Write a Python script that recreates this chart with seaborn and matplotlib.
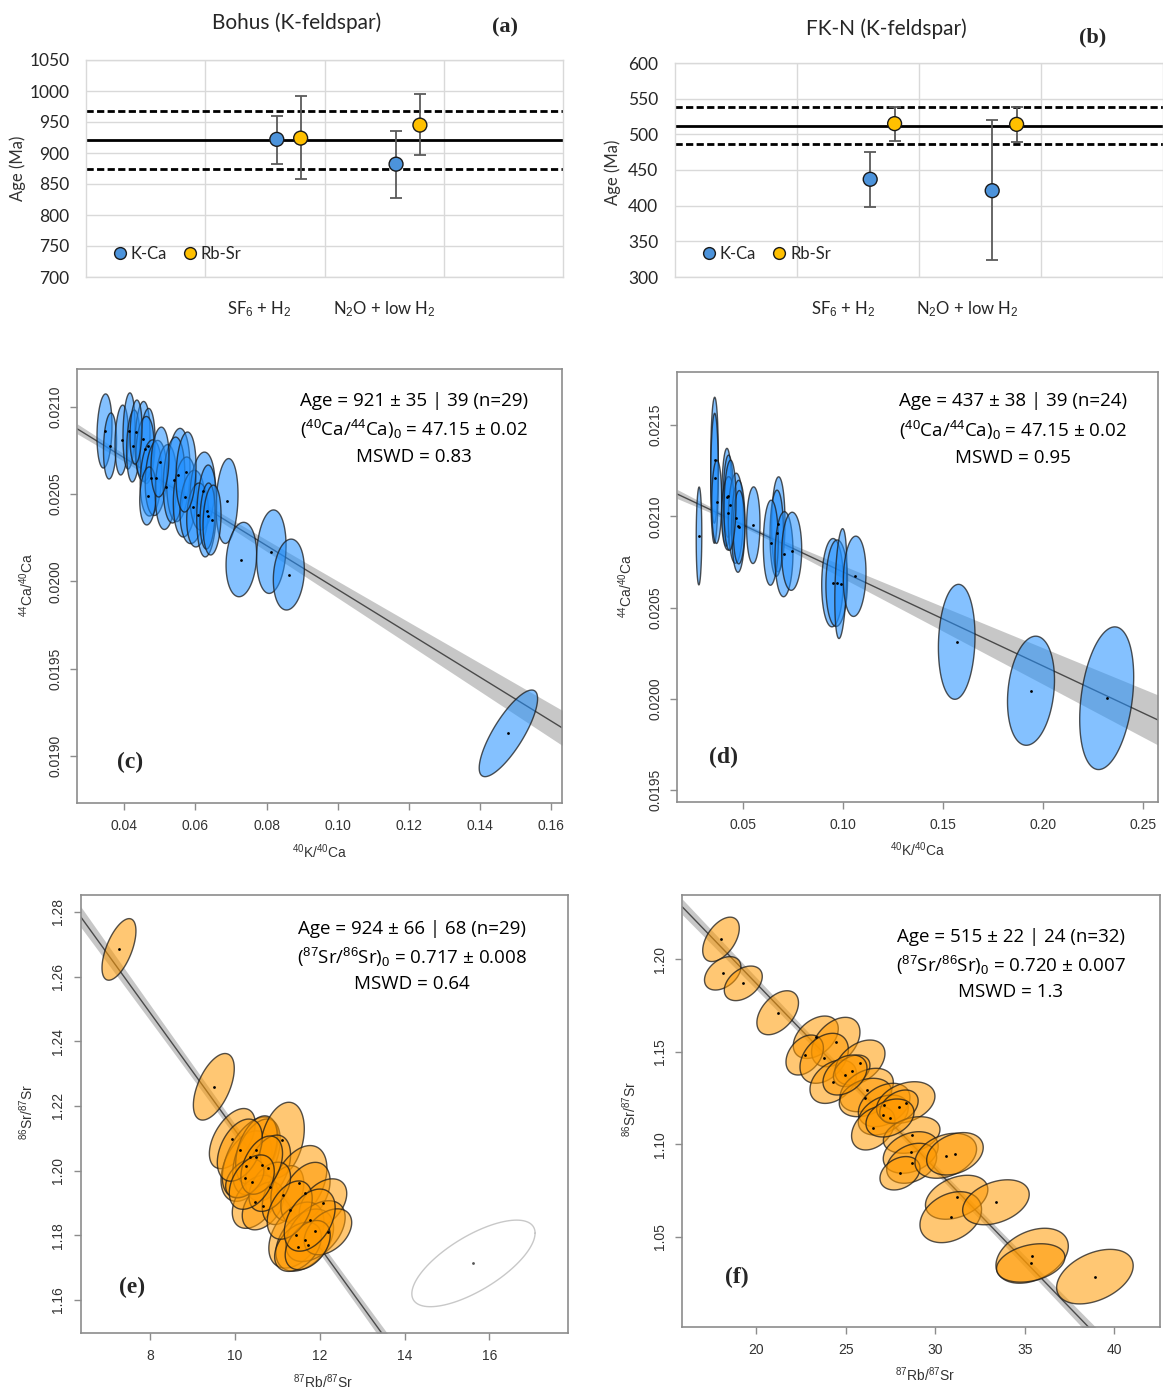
import numpy as np
import pandas as pd
import matplotlib
matplotlib.use("Agg")
import matplotlib.pyplot as plt
from matplotlib.lines import Line2D
import seaborn as sns

# ------------------------------------------------------------------ data
methods = [r"SF$_6$ + H$_2$", r"N$_2$O + low H$_2$"]

# (a) Bohus
a_kca_age = [922, 882]
a_kca_lo = [883, 827]
a_kca_hi = [960, 936]
a_rbsr_age = [924, 945]
a_rbsr_lo = [858, 896]
a_rbsr_hi = [992, 995]
a_ref = [921, 875, 967]          # mean, lower, upper
a_yticks = [700, 750, 800, 850, 900, 950, 1000, 1050]

# (b) FK-N
b_kca_age = [437, 421]
b_kca_lo = [398, 324]
b_kca_hi = [475, 520]
b_rbsr_age = [515, 514]
b_rbsr_lo = [491, 489]
b_rbsr_hi = [539, 539]
b_ref = [512, 486, 538]
b_yticks = [300, 350, 400, 450, 500, 550, 600]

# (c) Bohus K-Ca isochron
c_x = [0.03443, 0.03598, 0.03927, 0.04132, 0.04253, 0.04512, 0.04653, 0.04582, 0.04751, 0.04892,
       0.04667, 0.05173, 0.05519, 0.05398, 0.05707, 0.05918, 0.06200, 0.06059, 0.06318, 0.06340,
       0.06889, 0.07291, 0.08135, 0.08627, 0.14802, 0.05004, 0.05736, 0.06467, 0.04329]
c_y = [0.020861, 0.020775, 0.020809, 0.020861, 0.020775, 0.020815, 0.020775, 0.020758, 0.020592, 0.020592,
       0.020489, 0.020540, 0.020609, 0.020580, 0.020483, 0.020426, 0.020517, 0.020380, 0.020403, 0.020374,
       0.020460, 0.020125, 0.020170, 0.020039, 0.019130, 0.020683, 0.020626, 0.020351, 0.020855]
c_sx = [0.00211, 0.00183, 0.00188, 0.00169, 0.00188, 0.00211, 0.00211, 0.00253, 0.00304, 0.00304,
        0.00233, 0.00304, 0.00329, 0.00304, 0.00329, 0.00352, 0.00352, 0.00304, 0.00281, 0.00211,
        0.00309, 0.00430, 0.00414, 0.00436, 0.00821, 0.00253, 0.00281, 0.00253, 0.00169]
c_sy = [0.000212, 0.000189, 0.000200, 0.000218, 0.000206, 0.000215, 0.000215, 0.000186, 0.000218, 0.000215,
        0.000166, 0.000243, 0.000267, 0.000246, 0.000229, 0.000210, 0.000223, 0.000183, 0.000263, 0.000189,
        0.000243, 0.000213, 0.000239, 0.000203, 0.000248, 0.000200, 0.000229, 0.000200, 0.000183]
c_rho = [0.15] * 24 + [0.8] + [0.15] * 4
c_intercept, c_slope = 0.021209, -0.01255
c_text = ["Age = 921 ± 35 | 39 (n=29)", r"($^{40}$Ca/$^{44}$Ca)$_0$ = 47.15 ± 0.02", "MSWD = 0.83"]

# (d) FK-N K-Ca isochron
d_x = [0.02785, 0.0356, 0.0356, 0.0367, 0.0417, 0.0425, 0.0425, 0.04625, 0.0475, 0.04785,
       0.055, 0.0675, 0.0667, 0.06375, 0.07035, 0.0742, 0.0946, 0.0967, 0.09875, 0.1057,
       0.1567, 0.19385, 0.2317, 0.04335]
d_y = [0.020892, 0.021307, 0.021208, 0.021079, 0.021104, 0.021110, 0.021016, 0.020989, 0.020945, 0.020940,
       0.020951, 0.020956, 0.020907, 0.020855, 0.020792, 0.020808, 0.020636, 0.020633, 0.020631, 0.020671,
       0.020312, 0.020044, 0.020003, 0.021060]
d_sx = [0.0014, 0.0019, 0.0019, 0.0025, 0.0025, 0.0025, 0.00335, 0.00375, 0.00335, 0.0029,
        0.00335, 0.00335, 0.00335, 0.00375, 0.0045, 0.005, 0.0054, 0.0054, 0.003, 0.00565,
        0.00915, 0.01175, 0.0135, 0.003]
d_sy = [0.000268, 0.000345, 0.000356, 0.000228, 0.000268, 0.000225, 0.000201, 0.000247, 0.000252, 0.000201,
        0.000210, 0.000260, 0.000236, 0.000233, 0.000233, 0.000214, 0.000242, 0.000237, 0.000301, 0.000220,
        0.000315, 0.000299, 0.000391, 0.000247]
d_rho = [0.05] * 18 + [0.3, 0.1, 0.1, 0.2, 0.3, 0.1]
d_intercept, d_slope = 0.021209, -0.00515
d_text = ["Age = 437 ± 38 | 39 (n=24)", r"($^{40}$Ca/$^{44}$Ca)$_0$ = 47.15 ± 0.02", "MSWD = 0.95"]

# (e) Bohus Rb-Sr isochron
e_x = [7.271, 9.506, 9.941, 10.275, 10.365, 10.511, 10.511, 11.118, 10.784, 10.471,
       10.666, 11.136, 11.511, 11.666, 12.078, 11.452, 11.647, 11.901, 11.489, 12.195,
       11.718, 10.824, 10.235, 10.118, 10.635, 11.294, 11.765, 10.4]
e_y = [1.26838, 1.22591, 1.2099, 1.2014, 1.20418, 1.20427, 1.20634, 1.20943, 1.20078, 1.19036,
       1.18909, 1.19243, 1.19605, 1.19296, 1.18987, 1.18007, 1.17852, 1.1813, 1.17645, 1.18109,
       1.17698, 1.195, 1.19759, 1.20634, 1.2017, 1.1878, 1.1847, 1.19645]
e_sx = [0.400, 0.482, 0.540, 0.600, 0.660, 0.560, 0.490, 0.520, 0.530, 0.530,
        0.490, 0.490, 0.660, 0.580, 0.560, 0.650, 0.680, 0.700, 0.550, 0.560,
        0.530, 0.490, 0.450, 0.530, 0.490, 0.530, 0.600, 0.530]
e_sy = [0.00952, 0.01029, 0.00930, 0.01090, 0.01240, 0.01170, 0.01060, 0.01170, 0.01020, 0.00820,
        0.00740, 0.00910, 0.01170, 0.00960, 0.00760, 0.01020, 0.00960, 0.00940, 0.00760, 0.00710,
        0.00760, 0.00760, 0.00600, 0.00960, 0.00900, 0.00900, 0.00960, 0.00840]
e_rho = [0.6, 0.55, 0.5, 0.4, 0.5, 0.45, 0.4, 0.3, 0.4, 0.4,
         0.4, 0.4, 0.4, 0.4, 0.4, 0.4, 0.4, 0.45, 0.4, 0.4,
         0.4, 0.4, 0.4, 0.4, 0.4, 0.4, 0.4, 0.4]
e_out_x, e_out_y, e_out_sx, e_out_sy, e_out_rho = [15.624], [1.17132], [1.452], [0.01338], [0.7]
e_intercept, e_slope = 1.3940, -0.01814
e_text = ["Age = 924 ± 66 | 68 (n=29)", r"($^{87}$Sr/$^{86}$Sr)$_0$ = 0.717 ± 0.008", "MSWD = 0.64"]

# (f) FK-N Rb-Sr isochron
f_x = [18.047, 18.142, 19.291, 21.211, 23.337, 24.453, 22.718, 23.806, 24.314, 25.804,
       25.34, 26.177, 26.11, 27.154, 27.104, 26.546, 28.359, 27.98, 28.689, 28.638,
       28.689, 28.036, 30.592, 31.105, 31.2, 30.871, 33.393, 35.413, 35.335, 38.917,
       24.967, 27.478]
f_y = [1.21064, 1.19228, 1.18688, 1.171, 1.15777, 1.15518, 1.14816, 1.14638, 1.13374, 1.14411,
       1.13963, 1.12926, 1.12521, 1.12116, 1.11576, 1.10858, 1.12251, 1.12024, 1.10496, 1.09551,
       1.08968, 1.08428, 1.09373, 1.09481, 1.07132, 1.06057, 1.06862, 1.03973, 1.03584, 1.02844,
       1.13736, 1.11414]
f_sx = [1.021, 1.016, 1.06, 1.161, 1.256, 1.35, 1.044, 1.35, 1.3, 1.395,
        1.021, 1.49, 1.462, 1.44, 1.395, 1.211, 1.629, 1.071, 1.579, 1.535,
        1.395, 1.116, 1.719, 1.579, 1.741, 1.719, 1.858, 2.02, 1.908, 2.137,
        1.228, 1.339]
f_sy = [0.01199, 0.00902, 0.00934, 0.01188, 0.01145, 0.01334, 0.0108, 0.0135, 0.01172, 0.01215,
        0.00853, 0.01172, 0.01037, 0.01172, 0.0108, 0.01172, 0.01123, 0.00902, 0.00988, 0.01123,
        0.0108, 0.00902, 0.01215, 0.01145, 0.01188, 0.01377, 0.01215, 0.01485, 0.01037, 0.01474,
        0.0108, 0.01026]
f_rho = [0.5, 0.4, 0.4, 0.45, 0.4, 0.4, 0.35, 0.35, 0.35, 0.4,
         0.35, 0.35, 0.3, 0.35, 0.35, 0.35, 0.3, 0.35, 0.3, 0.3,
         0.3, 0.3, 0.3, 0.3, 0.35, 0.3, 0.35, 0.35, 0.3, 0.4,
         0.35, 0.3]
f_intercept, f_slope = 1.3872, -0.01001
f_text = ["Age = 515 ± 22 | 24 (n=32)", r"($^{87}$Sr/$^{86}$Sr)$_0$ = 0.720 ± 0.007", "MSWD = 1.3"]

# ------------------------------------------------------------------ style
W, H = 1163, 1391
sns.set_theme(style="white")
plt.rcParams["font.family"] = ["Liberation Sans", "DejaVu Sans"]
plt.rcParams["mathtext.fontset"] = "custom"
plt.rcParams["mathtext.rm"] = "Liberation Sans"
plt.rcParams["mathtext.it"] = "Liberation Sans:italic"
plt.rcParams["mathtext.bf"] = "Liberation Sans:bold"

KCA = "#4C93DB"
RBSR = "#FFC000"
BLUE_FILL = (0.12, 0.56, 1.0, 0.55)
ORANGE_FILL = (1.0, 0.60, 0.0, 0.55)
EDGE = (0.1, 0.1, 0.1, 0.75)
XL = ["Lato", "DejaVu Sans"]
ANN = ["Open Sans", "DejaVu Sans"]
SERIF = ["Liberation Serif", "DejaVu Serif"]

fig = plt.figure(figsize=(W / 100, H / 100), dpi=100)
fig.patch.set_facecolor("white")


def ax_px(l, t, r, b):
    return fig.add_axes([l / W, 1 - b / H, (r - l) / W, (b - t) / H])


def ftext(x, y, s, **kw):
    fig.text(x / W, 1 - y / H, s, **kw)


# ------------------------------------------------------------------ top panels
def top_panel(ax, kca, kca_lo, kca_hi, rb, rb_lo, rb_hi, ref, yticks, cat_pos):
    kca_pos = [1.6, 2.6]
    rb_pos = [1.8, 2.8]
    ax.set_xlim(0, 4)
    ax.set_ylim(yticks[0], yticks[-1])
    ax.set_yticks(yticks)
    ax.set_xticks(cat_pos)
    ax.set_xticklabels(methods, fontfamily=XL, fontsize=12, color="#262626")
    ax.set_xticks([1, 2, 3], minor=True)
    ax.grid(False)
    ax.grid(True, which="major", axis="y", color="#d9d9d9", lw=1)
    ax.grid(True, which="minor", axis="x", color="#d9d9d9", lw=1)
    ax.set_axisbelow(True)
    for s in ax.spines.values():
        s.set_color("#d9d9d9")
        s.set_linewidth(1)
    ax.tick_params(axis="both", which="both", length=0)
    ax.tick_params(axis="x", pad=16)
    ax.tick_params(axis="y", pad=12, labelsize=12.5, labelcolor="#262626")
    for lab in ax.get_yticklabels():
        lab.set_fontfamily(XL)
    ax.axhline(ref[0], color="black", lw=2, zorder=2)
    ax.axhline(ref[1], color="black", lw=2, ls=(0, (2.6, 1.2)), zorder=2)
    ax.axhline(ref[2], color="black", lw=2, ls=(0, (2.6, 1.2)), zorder=2)
    ax.errorbar(kca_pos, kca, yerr=[np.subtract(kca, kca_lo), np.subtract(kca_hi, kca)],
                fmt="none", ecolor="#5a5a5a", elinewidth=1.3, capsize=4, capthick=1.3, zorder=3)
    ax.errorbar(rb_pos, rb, yerr=[np.subtract(rb, rb_lo), np.subtract(rb_hi, rb)],
                fmt="none", ecolor="#5a5a5a", elinewidth=1.3, capsize=4, capthick=1.3, zorder=3)
    df = pd.DataFrame({"pos": kca_pos + rb_pos, "age": list(kca) + list(rb),
                       "system": ["K-Ca"] * 2 + ["Rb-Sr"] * 2})
    sns.scatterplot(data=df, x="pos", y="age", hue="system", palette={"K-Ca": KCA, "Rb-Sr": RBSR},
                    s=100, edgecolor="#1a1a1a", linewidth=1, legend=False, ax=ax, zorder=4)
    ax.set_xlabel("")
    ax.set_ylabel("")
    handles = [Line2D([], [], ls="", marker="o", ms=8.5, mfc=KCA, mec="#1a1a1a", mew=1),
               Line2D([], [], ls="", marker="o", ms=8.5, mfc=RBSR, mec="#1a1a1a", mew=1)]
    leg = ax.legend(handles, ["K-Ca", "Rb-Sr"], loc="lower left", bbox_to_anchor=(0.025, 0.0),
                    ncol=2, frameon=False, handlelength=0.8, handletextpad=0.25, columnspacing=1.0,
                    prop={"family": XL, "size": 12})
    for t in leg.get_texts():
        t.set_color("#262626")


ax_a = ax_px(86, 60, 563, 277)
top_panel(ax_a, a_kca_age, a_kca_lo, a_kca_hi, a_rbsr_age, a_rbsr_lo, a_rbsr_hi, a_ref, a_yticks, [1.45, 2.5])
ax_b = ax_px(675, 63, 1163, 277)
top_panel(ax_b, b_kca_age, b_kca_lo, b_kca_hi, b_rbsr_age, b_rbsr_lo, b_rbsr_hi, b_ref, b_yticks, [1.38, 2.4])

ftext(297, 23, "Bohus (K-feldspar)", ha="center", va="center", fontsize=15, family=XL, color="#262626")
ftext(886, 29, "FK-N (K-feldspar)", ha="center", va="center", fontsize=15, family=XL, color="#262626")
ftext(505, 27, "(a)", ha="center", va="center", fontsize=16, family=SERIF, weight="bold")
ftext(1093, 37, "(b)", ha="center", va="center", fontsize=16, family=SERIF, weight="bold")
ftext(18, 168, "Age (Ma)", ha="center", va="center", rotation=90, fontsize=12, family=XL, color="#333333")
ftext(613, 172, "Age (Ma)", ha="center", va="center", rotation=90, fontsize=12, family=XL, color="#333333")


# ------------------------------------------------------------------ isochron panels
def ellipse_xy(cx, cy, sx, sy, rho, n=120):
    t = np.linspace(0, 2 * np.pi, n)
    ex = cx + sx * np.cos(t)
    ey = cy + sy * (rho * np.cos(t) + np.sqrt(1 - rho ** 2) * np.sin(t))
    return ex, ey


def iso_panel(ax, xs, ys, sxs, sys_, rhos, fill, intercept, slope, band, xlim, ylim,
              xticks, xlabels, yticks, ylabels):
    ax.set_xlim(*xlim)
    ax.set_ylim(*ylim)
    xx = np.linspace(xlim[0], xlim[1], 400)
    yy = intercept + slope * xx
    a, xm, b = band
    hw = a * np.sqrt(1 + ((xx - xm) / b) ** 2)
    ax.fill_between(xx, yy - hw, yy + hw, color="#b0b0b0", alpha=0.7, lw=0, zorder=1)
    sns.lineplot(x=xx, y=yy, ax=ax, color="#4a4a4a", lw=1.0, zorder=2)
    for cx, cy, sx, sy, r in zip(xs, ys, sxs, sys_, rhos):
        ex, ey = ellipse_xy(cx, cy, sx, sy, r)
        ax.fill(ex, ey, facecolor=fill, edgecolor=EDGE, lw=1.0, zorder=3)
    sns.scatterplot(x=xs, y=ys, ax=ax, s=4, color="black", linewidth=0, zorder=5)
    ax.set_xticks(xticks)
    ax.set_xticklabels(xlabels)
    ax.set_yticks(yticks)
    ax.set_yticklabels(ylabels, rotation=90, va="center")
    ax.grid(False)
    for s in ax.spines.values():
        s.set_color("#8c8c8c")
        s.set_linewidth(1.2)
    ax.tick_params(axis="both", direction="out", length=5, width=1, color="#8c8c8c",
                   labelsize=10, labelcolor="#333333", bottom=True, left=True)
    ax.tick_params(axis="x", pad=7)
    ax.tick_params(axis="y", pad=6)
    ax.set_xlabel("")
    ax.set_ylabel("")


def annot(cx, ys, lines):
    for y, s in zip(ys, lines):
        ftext(cx, y, s, ha="center", va="center", fontsize=13.5, family=ANN, color="black")


ax_c = ax_px(77.3, 369.3, 562.3, 802.7)
iso_panel(ax_c, c_x, c_y, c_sx, c_sy, c_rho, BLUE_FILL, c_intercept, c_slope, (0.00002, 0.05, 0.023),
          (0.02678, 0.16318), (0.018733, 0.021214),
          [0.04, 0.06, 0.08, 0.10, 0.12, 0.14, 0.16], ["0.04", "0.06", "0.08", "0.10", "0.12", "0.14", "0.16"],
          [0.0190, 0.0195, 0.0200, 0.0205, 0.0210], ["0.0190", "0.0195", "0.0200", "0.0205", "0.0210"])
ax_d = ax_px(677.3, 371.7, 1157.7, 801.7)
iso_panel(ax_d, d_x, d_y, d_sx, d_sy, d_rho, BLUE_FILL, d_intercept, d_slope, (0.000012, 0.05, 0.0182),
          (0.017, 0.2572), (0.019436, 0.021792),
          [0.05, 0.10, 0.15, 0.20, 0.25], ["0.05", "0.10", "0.15", "0.20", "0.25"],
          [0.0195, 0.0200, 0.0205, 0.0210, 0.0215], ["0.0195", "0.0200", "0.0205", "0.0210", "0.0215"])
ax_e = ax_px(80.7, 895, 568.3, 1332.7)
iso_panel(ax_e, e_x, e_y, e_sx, e_sy, e_rho, ORANGE_FILL, e_intercept, e_slope, (0.0018, 11.0, 3.2),
          (6.369, 17.859), (1.1499, 1.2852),
          [8, 10, 12, 14, 16], ["8", "10", "12", "14", "16"],
          [1.16, 1.18, 1.20, 1.22, 1.24, 1.26, 1.28], ["1.16", "1.18", "1.20", "1.22", "1.24", "1.26", "1.28"])
for cx, cy, sx, sy, r in zip(e_out_x, e_out_y, e_out_sx, e_out_sy, e_out_rho):
    ex, ey = ellipse_xy(cx, cy, sx, sy, r)
    ax_e.plot(ex, ey, color="#c8c8c8", lw=1.0, zorder=3)
sns.scatterplot(x=e_out_x, y=e_out_y, ax=ax_e, s=4, color="#555555", linewidth=0, zorder=5)
ax_f = ax_px(682.3, 895, 1160, 1326.7)
iso_panel(ax_f, f_x, f_y, f_sx, f_sy, f_rho, ORANGE_FILL, f_intercept, f_slope, (0.0022, 28.0, 7.4),
          (15.887, 42.55), (1.0014, 1.2346),
          [20, 25, 30, 35, 40], ["20", "25", "30", "35", "40"],
          [1.05, 1.10, 1.15, 1.20], ["1.05", "1.10", "1.15", "1.20"])

annot(414, [401, 429, 457], c_text)
annot(1013, [401, 430, 458], d_text)
annot(412, [929, 957, 984], e_text)
annot(1011, [937, 965, 992], f_text)

for (x, y, s) in [(130, 762, "(c)"), (724, 757, "(d)"), (132, 1287, "(e)"), (737, 1277, "(f)")]:
    ftext(x, y, s, ha="center", va="center", fontsize=17, family=SERIF, weight="bold")

lab_kw = dict(ha="center", va="center", fontsize=10, color="#333333")
ftext(320, 852, r"$^{40}$K/$^{40}$Ca", **lab_kw)
ftext(27, 585, r"$^{44}$Ca/$^{40}$Ca", rotation=90, **lab_kw)
ftext(918, 850, r"$^{40}$K/$^{40}$Ca", **lab_kw)
ftext(626, 586, r"$^{44}$Ca/$^{40}$Ca", rotation=90, **lab_kw)
ftext(323, 1382, r"$^{87}$Rb/$^{87}$Sr", **lab_kw)
ftext(27, 1112, r"$^{86}$Sr/$^{87}$Sr", rotation=90, **lab_kw)
ftext(925, 1375, r"$^{87}$Rb/$^{87}$Sr", **lab_kw)
ftext(630, 1109, r"$^{86}$Sr/$^{87}$Sr", rotation=90, **lab_kw)

fig.savefig("out.png", dpi=100, facecolor="white")
